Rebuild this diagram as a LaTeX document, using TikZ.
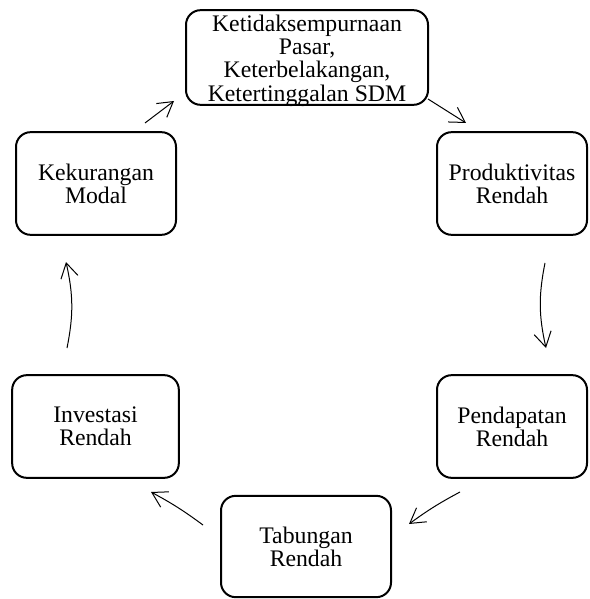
\documentclass[tikz,border=0pt]{standalone}
\usepackage{fontspec}
\setmainfont{Liberation Serif}
\usetikzlibrary{arrows.meta}

\begin{document}
\begin{tikzpicture}[x=0.75pt,y=0.75pt,yscale=-1,xscale=1,
    kotak/.style={draw, line width=1.5pt, rounded corners=11pt, align=center, inner sep=0pt,
        font=\fontsize{17.8}{17.2}\selectfont},
    panah/.style={line width=0.75pt, -{Straight Barb[length=11pt,width=13pt,line width=0.75pt]}}]
        \useasboundingbox (0,0) rectangle (589,599);

        % kotak-kotak lingkaran
        \node [kotak, minimum width=181.5pt, minimum height=71pt] (pasar) at (307,57.5) {\raisebox{-3pt}[\height][\depth]{\begin{tabular}{@{}c@{}}Ketidaksempurnaan\\Pasar,\\Keterbelakangan,\\Ketertinggalan SDM\end{tabular}}};
        \node [kotak, minimum width=112.5pt, minimum height=77pt] (produk) at (512,183.5) {Produktivitas\\Rendah};
        \node [kotak, minimum width=112.5pt, minimum height=77pt] (pendapatan) at (512,426.5) {Pendapatan\\Rendah};
        \node [kotak, minimum width=127.5pt, minimum height=76pt] (tabungan) at (306,546.5) {Tabungan\\Rendah};
        \node [kotak, minimum width=125pt, minimum height=77pt] (investasi) at (95.5,426.5) {Investasi\\Rendah};
        \node [kotak, minimum width=120pt, minimum height=77pt] (modal) at (96,183.5) {Kekurangan\\Modal};

        % ujung panah
        \coordinate (p1a) at (145,123);
        \coordinate (p1b) at (174,101);
        \coordinate (p2a) at (428,99);
        \coordinate (p2b) at (466,123);
        \coordinate (p3a) at (545,263);
        \coordinate (p3b) at (546,348);
        \coordinate (p4a) at (460,492);
        \coordinate (p4b) at (409,524);
        \coordinate (p5a) at (203,525);
        \coordinate (p5b) at (151,492);
        \coordinate (p6a) at (67,348);
        \coordinate (p6b) at (66,262);

        \draw [panah] (p1a) -- (p1b);
        \draw [panah] (p2a) -- (p2b);
        \draw [panah] (p3a) to [bend left=12] (p3b);
        \draw [panah] (p4a) to [bend left=4] (p4b);
        \draw [panah] (p5a) to [bend left=4] (p5b);
        \draw [panah] (p6a) to [bend left=12] (p6b);

    \end{tikzpicture}
\end{document}
